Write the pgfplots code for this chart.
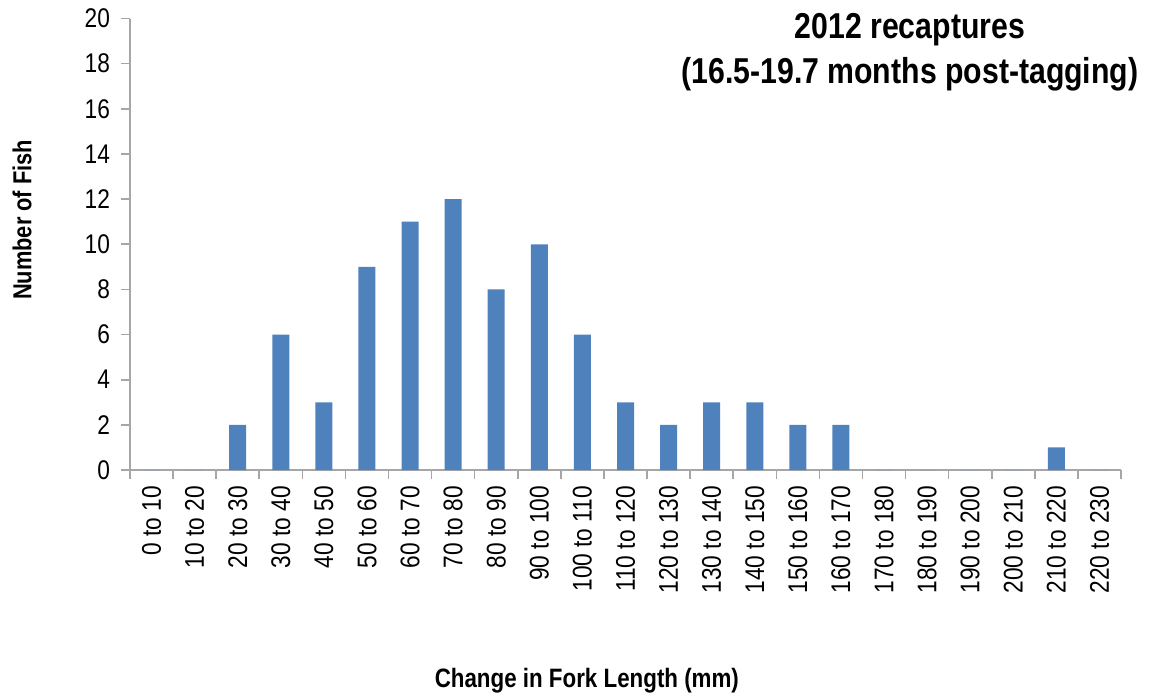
\documentclass[border=0pt]{standalone}
\usepackage{fontspec}
\setmainfont{Liberation Sans}[FakeStretch=0.84]
\usepackage{pgfplots}
\usepackage{pgfplotstable}
\pgfplotsset{compat=1.18}
\usetikzlibrary{calc}
\definecolor{barblue}{HTML}{4F81BD}
\definecolor{axgray}{HTML}{A6A6A6}

% change in fork length, 10 mm bins
\pgfplotstableread{
bin count
0 0
1 0
2 2
3 6
4 3
5 9
6 11
7 12
8 8
9 10
10 6
11 3
12 2
13 3
14 3
15 2
16 2
17 0
18 0
19 0
20 0
21 1
22 0
}\fishdata

\begin{document}
\begin{tikzpicture}
\begin{axis}[
  name=ax,
  scale only axis,
  clip=false,
  width=495.5pt, height=225.75pt,
  xmin=-0.5, xmax=22.5, ymin=0, ymax=20,
  axis x line*=bottom, axis y line*=left,
  axis line style={axgray, line width=0.8pt},
  ytick={0,2,...,20},
  xtick={-0.5,0.5,...,22.5},
  x tick label as interval,
  xticklabels={0 to 10,10 to 20,20 to 30,30 to 40,40 to 50,50 to 60,60 to 70,70 to 80,80 to 90,90 to 100,100 to 110,110 to 120,120 to 130,130 to 140,140 to 150,150 to 160,160 to 170,170 to 180,180 to 190,190 to 200,200 to 210,210 to 220,220 to 230},
  tick align=outside,
  major tick length=4.5pt,
  tick style={axgray, line width=0.8pt},
  /pgf/number format/assume math mode=true,
  tick label style={font=\fontsize{13.5}{15}\selectfont, black},
  yticklabel style={xshift=-2pt},
  xticklabel style={rotate=90, anchor=east},
  ybar, bar width=8.5pt,
  every axis y label/.style={at={(axis description cs:-0.109,0.554)}, rotate=90, anchor=center},
  every axis x label/.style={at={(axis description cs:0.461,-0.467)}, anchor=center},
  ylabel={\bfseries\fontsize{13}{15}\selectfont Number of Fish},
  xlabel={\bfseries\fontsize{13.3}{15}\selectfont Change in Fork Length (mm)},
]
\addplot[fill=barblue, draw=none] table[x=bin, y=count] {\fishdata};
\node[align=center, font=\bfseries\fontsize{18}{22.5}\selectfont] at (axis description cs:0.787,0.926)
  {2012 recaptures\\(16.5-19.7 months post-tagging)};
\end{axis}
\pgfresetboundingbox
\path ($(ax.south west)+(-65pt,-113pt)$) rectangle ++(576pt,348pt);
\end{tikzpicture}
\end{document}
